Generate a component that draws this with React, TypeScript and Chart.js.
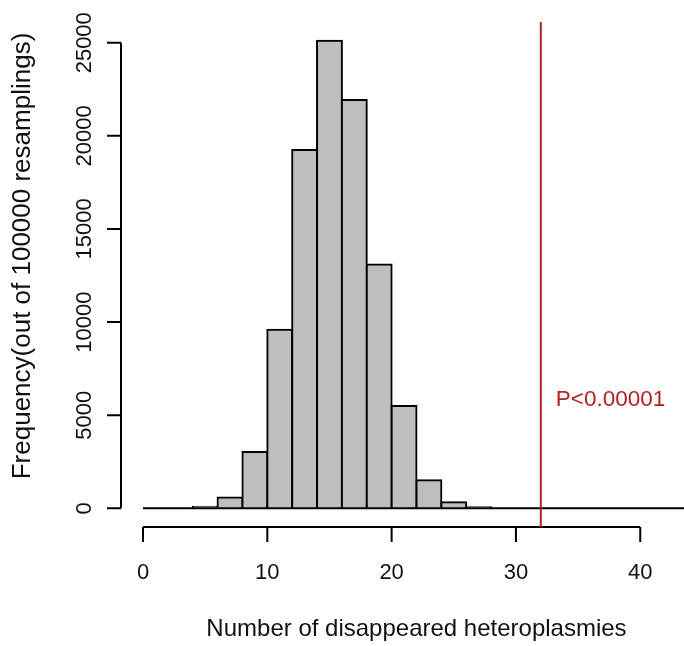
import { useEffect, useRef } from "react";
import { Chart, registerables } from "chart.js";

Chart.register(...registerables);

// Histogram of resampled counts, 2-wide bins starting at each value below
const binStarts = [4, 6, 8, 10, 12, 14, 16, 18, 20, 22, 24, 26];
const binWidth = 2;
const counts = [90, 580, 3030, 9590, 19240, 25110, 21930, 13090, 5500, 1510, 320, 60];

const xTicks = [0, 10, 20, 30, 40];
const yTicks = [0, 5000, 10000, 15000, 20000, 25000];

const observedValue = 32;
const pLabel = "P<0.00001";
const pLabelY = 6000;
const xTitle = "Number of disappeared heteroplasmies";
const yTitle = "Frequency(out of 100000 resamplings)";

const W = 684;
const H = 646;
const FONT = '"Liberation Sans", Arial, Helvetica, sans-serif';
const RED = "#b22222";

const rAxes = {
  id: "rAxes",
  afterDatasetsDraw(chart: any) {
    const { ctx, chartArea } = chart;
    const xs = chart.scales.x;
    const ys = chart.scales.y;
    const px = (v: number) => xs.getPixelForValue(v);
    const py = (v: number) => ys.getPixelForValue(v);

    ctx.save();
    ctx.strokeStyle = "#000";
    ctx.lineWidth = 2;
    ctx.lineCap = "butt";

    // zero baseline under the bins
    ctx.beginPath();
    ctx.moveTo(px(0), py(0));
    ctx.lineTo(chartArea.right, py(0));
    ctx.stroke();

    // x axis
    const xa = chartArea.bottom;
    ctx.beginPath();
    ctx.moveTo(px(xTicks[0]), xa);
    ctx.lineTo(px(xTicks[xTicks.length - 1]), xa);
    for (const t of xTicks) {
      ctx.moveTo(px(t), xa);
      ctx.lineTo(px(t), xa + 15);
    }
    ctx.stroke();

    // y axis
    const ya = chartArea.left;
    ctx.beginPath();
    ctx.moveTo(ya, py(yTicks[0]));
    ctx.lineTo(ya, py(yTicks[yTicks.length - 1]));
    for (const t of yTicks) {
      ctx.moveTo(ya, py(t));
      ctx.lineTo(ya - 14, py(t));
    }
    ctx.stroke();

    ctx.fillStyle = "#111";
    ctx.font = `22px ${FONT}`;
    ctx.textAlign = "center";
    ctx.textBaseline = "alphabetic";
    for (const t of xTicks) {
      ctx.fillText(String(t), px(t), 579);
    }
    for (const t of yTicks) {
      ctx.save();
      ctx.translate(91, py(t));
      ctx.rotate(-Math.PI / 2);
      ctx.fillText(String(t), 0, 0);
      ctx.restore();
    }

    // axis titles
    ctx.font = `24px ${FONT}`;
    ctx.fillText(xTitle, px(22), 636);
    ctx.save();
    ctx.translate(30, 256);
    ctx.rotate(-Math.PI / 2);
    ctx.font = `26px ${FONT}`;
    ctx.fillText(yTitle, 0, 0);
    ctx.restore();

    // observed value marker
    ctx.strokeStyle = RED;
    ctx.lineWidth = 2;
    ctx.beginPath();
    ctx.moveTo(px(observedValue), chartArea.top);
    ctx.lineTo(px(observedValue), chartArea.bottom);
    ctx.stroke();

    ctx.fillStyle = RED;
    ctx.font = `22.5px ${FONT}`;
    ctx.textAlign = "left";
    ctx.fillText(pLabel, px(observedValue) + 15, py(pLabelY) + 9);

    ctx.restore();
  },
};

export default function App() {
  const ref = useRef<HTMLCanvasElement | null>(null);

  useEffect(() => {
    if (!ref.current) return;
    const data = binStarts.map((s, i) => ({ x: s + binWidth / 2, y: counts[i] }));
    const chart = new Chart(ref.current, {
      type: "bar",
      data: {
        datasets: [
          {
            data,
            backgroundColor: "#bebebe",
            borderColor: "#000",
            borderWidth: 2,
            inflateAmount: 1,
            barPercentage: 1,
            categoryPercentage: 1,
          } as any,
        ],
      },
      options: {
        responsive: false,
        animation: false,
        events: [],
        layout: { padding: { left: 121, right: 0, top: 22, bottom: H - 527 } },
        plugins: {
          legend: { display: false },
          tooltip: { enabled: false },
          title: { display: false },
        },
        scales: {
          x: {
            type: "linear",
            display: false,
            offset: false,
            min: -1.77,
            max: 43.52,
            grid: { offset: false },
          },
          y: {
            type: "linear",
            display: false,
            min: -1004,
            max: 26114,
          },
        },
      },
      plugins: [rAxes],
    });
    return () => chart.destroy();
  }, []);

  return (
    <div style={{ position: "absolute", left: 0, top: 0, width: W, height: H, background: "#fff" }}>
      <canvas ref={ref} width={W} height={H} style={{ display: "block", width: W, height: H }} />
    </div>
  );
}
